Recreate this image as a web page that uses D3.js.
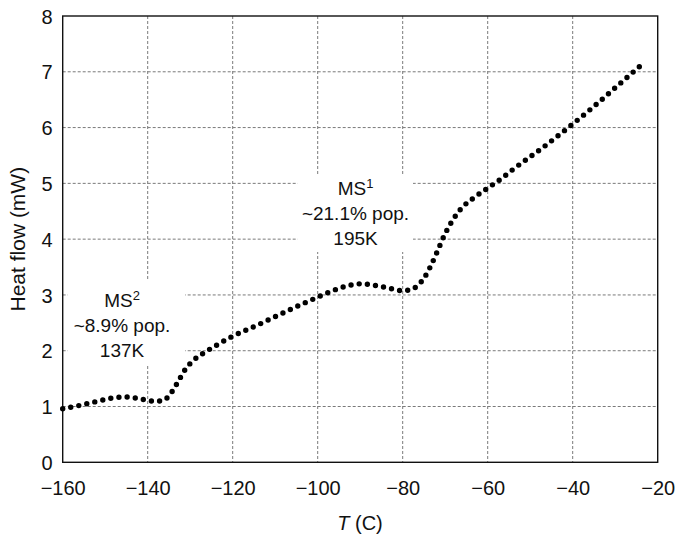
<!DOCTYPE html>
<html>
<head>
<meta charset="utf-8">
<script src="https://cdn.jsdelivr.net/npm/d3@7"></script>
<style>
  html, body { margin: 0; padding: 0; background: #fff; }
  svg { display: block; }
  text { font-family: "Liberation Sans", Arial, Helvetica, sans-serif; fill: #111; }
</style>
</head>
<body>
<svg id="chart" width="677" height="536"></svg>
<script>
// ---- data ----
const temperature = [-160, -156, -152, -148, -145, -142, -139, -137, -135.3, -133.2, -131.2, -129.5, -127, -124, -120, -115, -110, -105, -100, -97, -93.7, -89.8, -86, -82, -80.2, -78.4, -76.6, -75, -73.4, -71.8, -70.2, -68.4, -66.1, -63.1, -59.9, -56.7, -53.7, -47.4, -41.2, -35.3, -29.3, -23.3];
const heatFlow    = [0.96, 1.02, 1.09, 1.155, 1.17, 1.14, 1.10, 1.10, 1.165, 1.40, 1.66, 1.81, 1.95, 2.09, 2.26, 2.43, 2.61, 2.79, 2.96, 3.06, 3.15, 3.20, 3.165, 3.10, 3.075, 3.09, 3.16, 3.30, 3.52, 3.79, 4.07, 4.32, 4.56, 4.75, 4.92, 5.09, 5.27, 5.62, 5.99, 6.36, 6.76, 7.16];
const xTicks = [-160, -140, -120, -100, -80, -60, -40, -20];
const yTicks = [0, 1, 2, 3, 4, 5, 6, 7, 8];
const ms1Lines = ["MS|1", "~21.1% pop.", "195K"];
const ms2Lines = ["MS|2", "~8.9% pop.", "137K"];

// ---- layout ----
const svg = d3.select("#chart");
const L = 62.7, R = 657.7, T = 16, B = 462.3;
const x = d3.scaleLinear().domain([-160, -20]).range([L, R]);
const y = d3.scaleLinear().domain([0, 8]).range([B, T]);

// gridlines
const grid = svg.append("g").attr("stroke", "#7a7a7a").attr("stroke-width", 1).attr("stroke-dasharray", "3,2");
grid.selectAll("line.v").data(xTicks.slice(1, -1)).join("line")
  .attr("x1", d => x(d)).attr("x2", d => x(d)).attr("y1", T).attr("y2", B);
grid.selectAll("line.h").data(yTicks.slice(1, -1)).join("line")
  .attr("y1", d => y(d)).attr("y2", d => y(d)).attr("x1", L).attr("x2", R);

// white boxes behind annotations (interrupt the grid)
const boxes = [
  {x0: 297.5, x1: 413, y0: 174.5, y1: 252},
  {x0: 68, x1: 185, y0: 280, y1: 365}
];
svg.append("g").selectAll("rect").data(boxes).join("rect")
  .attr("x", d => d.x0).attr("y", d => d.y0)
  .attr("width", d => d.x1 - d.x0).attr("height", d => d.y1 - d.y0)
  .attr("fill", "#fff");

// frame
svg.append("rect").attr("x", L).attr("y", T).attr("width", R - L).attr("height", B - T)
  .attr("fill", "none").attr("stroke", "#111").attr("stroke-width", 1.4);

// axes (labels only, no tick marks)
const xAxis = d3.axisBottom(x).tickValues(xTicks).tickSize(0).tickPadding(0)
  .tickFormat(d => String(d).replace("-", "\u2212"));
const gx = svg.append("g").attr("transform", `translate(0,${B})`).call(xAxis);
gx.select(".domain").remove();
gx.selectAll("text").attr("font-size", 20).attr("dy", null).attr("y", 33)
  .style("font-family", "'Liberation Sans', Arial, sans-serif").attr("fill", "#111");

const yAxis = d3.axisLeft(y).tickValues(yTicks).tickSize(0).tickPadding(0);
const gy = svg.append("g").attr("transform", `translate(${L},0)`).call(yAxis);
gy.select(".domain").remove();
gy.selectAll("text").attr("font-size", 20).attr("x", -10).attr("dy", "0.36em")
  .style("font-family", "'Liberation Sans', Arial, sans-serif").attr("fill", "#111");

// axis titles
const xt = svg.append("text").attr("x", 360).attr("y", 530).attr("text-anchor", "middle").attr("font-size", 20);
xt.append("tspan").attr("font-style", "italic").text("T");
xt.append("tspan").text(" (C)");
svg.append("text").attr("transform", `translate(25,${(T + B) / 2}) rotate(-90)`)
  .attr("text-anchor", "middle").attr("font-size", 21).text("Heat flow (mW)");

// annotations
function annotate(lines, cx, y0) {
  const t = svg.append("text").attr("text-anchor", "middle").attr("font-size", 19);
  lines.forEach((ln, i) => {
    const parts = ln.split("|");
    t.append("tspan").attr("x", cx).attr("y", y0 + i * 25).text(parts[0]);
    if (parts[1]) {
      t.append("tspan").attr("font-size", 13).attr("dy", -7).text(parts[1]);
    }
  });
}
annotate(ms1Lines, 355.5, 195);
annotate(ms2Lines, 122, 306.5);

// data curve drawn as round dots
const pts = temperature.map((t, i) => [t, heatFlow[i]]);
const line = d3.line().x(d => x(d[0])).y(d => y(d[1])).curve(d3.curveMonotoneX);
svg.append("path").datum(pts).attr("d", line)
  .attr("fill", "none").attr("stroke", "#000").attr("stroke-width", 5.4)
  .attr("stroke-linecap", "round").attr("stroke-dasharray", "0 8.2");
</script>
</body>
</html>
